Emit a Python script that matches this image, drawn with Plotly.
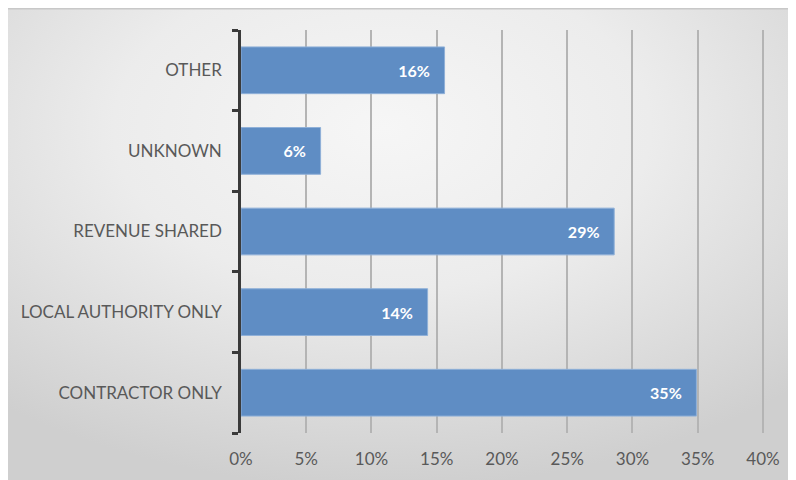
import base64
import plotly.graph_objects as go

categories = ["CONTRACTOR ONLY", "LOCAL AUTHORITY ONLY", "REVENUE SHARED", "UNKNOWN", "OTHER"]
values = [0.349, 0.143, 0.286, 0.061, 0.156]
tick_vals = [0, 0.05, 0.10, 0.15, 0.20, 0.25, 0.30, 0.35, 0.40]
tick_text = ["0%", "5%", "10%", "15%", "20%", "25%", "30%", "35%", "40%"]

W, H = 796, 480
ml, mr, mt, mb = 233, 40, 22, 55
pw, ph = W - ml - mr, H - mt - mb

svg = """<svg xmlns='http://www.w3.org/2000/svg' width='796' height='480' viewBox='0 0 796 480' preserveAspectRatio='none'>
<defs><radialGradient id='g' cx='0.47' cy='0.25' r='0.75' gradientUnits='objectBoundingBox'>
<stop offset='0' stop-color='#f6f6f6'/><stop offset='0.45' stop-color='#ececec'/><stop offset='1' stop-color='#cfcfcf'/></radialGradient></defs>
<rect x='0' y='0' width='796' height='480' fill='url(#g)'/>
<rect x='0' y='0' width='796' height='1.5' fill='#c8c8c8'/>
</svg>"""
src = "data:image/svg+xml;base64," + base64.b64encode(svg.encode()).decode()

fig = go.Figure(go.Bar(
    y=categories, x=values, orientation="h",
    marker=dict(color="#5f8dc4", line=dict(color="#8fb0d8", width=1)),
    texttemplate="%{x:.0%}\u00a0\u00a0\u00a0", textposition="inside", insidetextanchor="end",
    textfont=dict(color="white", size=16, family="Lato", weight="bold"),
    cliponaxis=False,
))

fig.add_layout_image(dict(
    source=src, xref="paper", yref="paper",
    x=-ml / pw, y=1 + mt / ph, sizex=W / pw, sizey=H / ph,
    xanchor="left", yanchor="top", sizing="stretch", layer="below",
))

fig.update_layout(
    width=W, height=H,
    margin=dict(l=ml, r=mr, t=mt, b=mb, pad=0),
    paper_bgcolor="#e4e4e4", plot_bgcolor="rgba(0,0,0,0)",
    bargap=0.42, showlegend=False,
    font=dict(family="Lato", color="#595959", size=17),
    xaxis=dict(range=[0, 0.4008], tickvals=tick_vals, ticktext=tick_text,
               showgrid=True, gridcolor="#b4b4b4", gridwidth=1.5,
               zeroline=False, showline=False, ticks="", ticklabelstandoff=14,
               tickfont=dict(size=17, color="#595959")),
    yaxis=dict(showline=True, linecolor="#3a3a3a", linewidth=2.5,
               ticks="outside", tickson="boundaries", ticklen=6, tickwidth=2.5,
               tickcolor="#3a3a3a", showgrid=False, ticklabelstandoff=13,
               tickfont=dict(size=17, color="#595959")),
)

fig.write_html("out.html")
